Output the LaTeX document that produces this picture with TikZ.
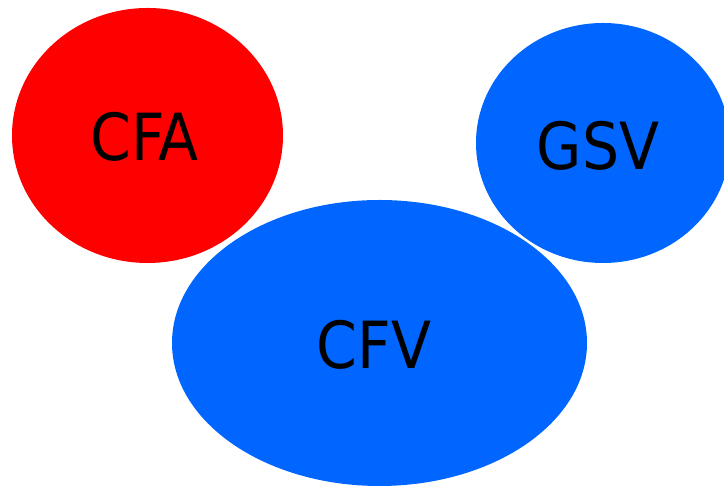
\documentclass[tikz,border=0pt]{standalone}
\usepackage{fontspec}
\setmainfont{DejaVu Sans Condensed}
\usetikzlibrary{shapes.geometric}
\definecolor{cblue}{HTML}{0066FF}
\definecolor{cred}{HTML}{FF0000}
\begin{document}
\begin{tikzpicture}[x=1pt,y=1pt,
  lbl/.style={font=\fontsize{65}{70}\selectfont, text=black}]
\useasboundingbox (0,0) rectangle (724,486);
\clip (0,0) rectangle (724,486);
\fill[cred] (147.5,350.5) ellipse [x radius=135.5, y radius=127.5];
\fill[cblue] (603,343) ellipse [x radius=127, y radius=120];
\fill[cblue] (379.5,143) ellipse [x radius=207.5, y radius=143];
\node[lbl] (cfa) at (144.5,349) {CFA};
\node[lbl] (gsv) at (598,340) {GSV};
\node[lbl] (cfv) at (374,141) {CFV};
\end{tikzpicture}
\end{document}
